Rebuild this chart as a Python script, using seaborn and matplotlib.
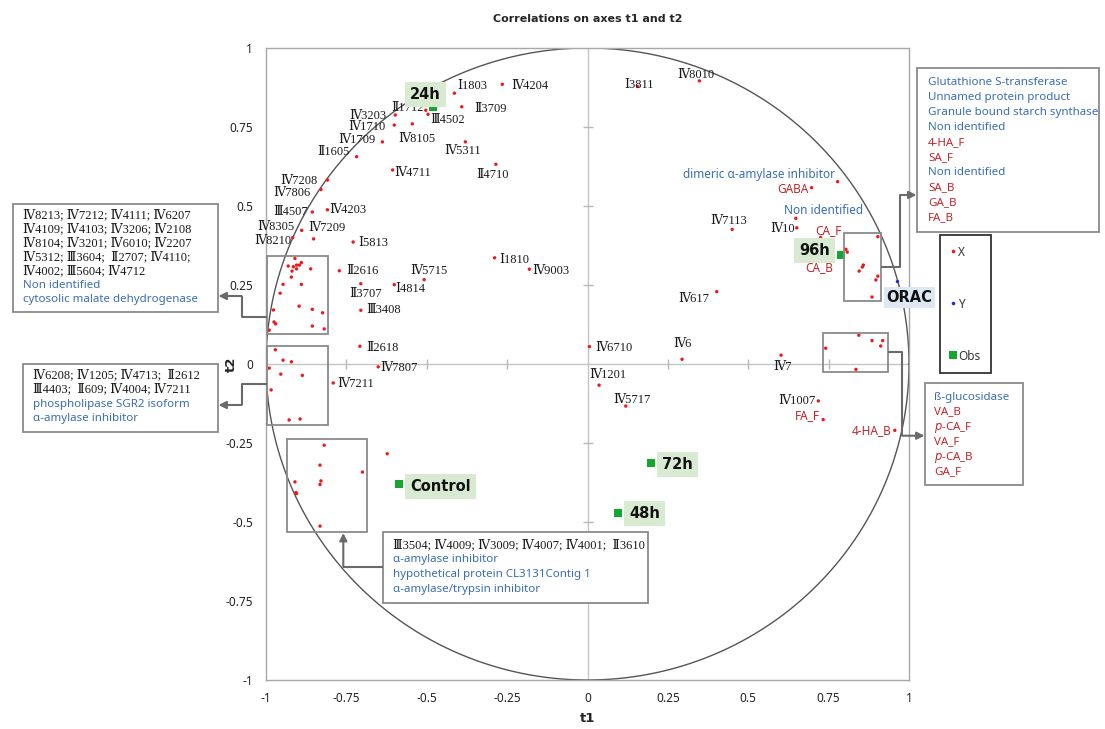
import numpy as np
import pandas as pd
import matplotlib
matplotlib.use('Agg')
import matplotlib.pyplot as plt
from matplotlib.lines import Line2D
from matplotlib.patches import Rectangle
import seaborn as sns

# ---------------- data ----------------
var_labels = ['Ⅰ1803', 'Ⅳ4204', 'Ⅱ1712', 'Ⅱ3709', 'Ⅲ4502', 'Ⅳ3203', 'Ⅳ1710', 'Ⅳ8105',
              'Ⅳ1709', 'Ⅳ5311', 'Ⅱ1605', 'Ⅱ4710', 'Ⅳ4711', 'Ⅳ7208', 'Ⅳ7806', 'Ⅲ4507',
              'Ⅳ4203', 'Ⅳ8305', 'Ⅳ7209', 'Ⅳ8210', 'Ⅰ5813', 'Ⅰ1810', 'Ⅳ9003', 'Ⅱ2616',
              'Ⅳ5715', 'Ⅱ3707', 'Ⅰ4814', 'Ⅲ3408', 'Ⅱ2618', 'Ⅳ7807', 'Ⅳ7211', 'Ⅳ6710',
              'Ⅳ1201', 'Ⅳ5717', 'Ⅳ6', 'Ⅳ7', 'Ⅳ1007', 'FA_F', '4-HA_B', 'Ⅰ3811', 'Ⅳ8010',
              'dimeric α-amylase inhibitor', 'GABA', 'Non identified', 'Ⅳ10', 'Ⅳ7113',
              'CA_F', 'CA_B', 'Ⅳ617']
var_x = [-0.414, -0.265, -0.503, -0.391, -0.496, -0.598, -0.601, -0.545,
         -0.638, -0.380, -0.718, -0.285, -0.606, -0.809, -0.829, -0.856,
         -0.809, -0.889, -0.852, -0.917, -0.729, -0.289, -0.181, -0.772,
         -0.508, -0.705, -0.601, -0.705, -0.708, -0.651, -0.791, 0.006,
         0.036, 0.119, 0.294, 0.602, 0.718, 0.733, 0.956, 0.156, 0.348,
         0.778, 0.697, 0.648, 0.651, 0.450, 0.725, 0.741, 0.402]
var_y = [0.857, 0.885, 0.803, 0.814, 0.790, 0.788, 0.756, 0.760,
         0.703, 0.703, 0.656, 0.632, 0.614, 0.582, 0.552, 0.481,
         0.488, 0.423, 0.396, 0.400, 0.386, 0.336, 0.300, 0.295,
         0.267, 0.254, 0.251, 0.170, 0.056, -0.009, -0.060, 0.055,
         -0.067, -0.133, 0.015, 0.028, -0.117, -0.176, -0.210, 0.878, 0.896,
         0.577, 0.558, 0.461, 0.431, 0.426, 0.400, 0.329, 0.229]

# variables without labels (grouped in the framed clusters)
grp_x = [-0.910, -0.931, -0.915, -0.905, -0.896, -0.890, -0.919, -0.905, -0.861, -0.921,
         -0.890, -0.947, -0.956, -0.977, -0.897, -0.856, -0.824, -0.975, -0.970, -0.990,
         -0.856, -0.819,
         -0.971, -0.947, -0.921, -0.990, -0.954, -0.887, -0.984, -0.928, -0.894,
         -0.819, -0.832, -0.700, -0.910, -0.829, -0.832, -0.907, -0.905, -0.832, -0.623,
         0.804, 0.808, 0.858, 0.855, 0.845, 0.903, 0.903, 0.897, 0.885,
         0.741, 0.844, 0.885, 0.918, 0.912, 0.835]
grp_y = [0.334, 0.310, 0.308, 0.313, 0.313, 0.321, 0.294, 0.301, 0.301, 0.275,
         0.252, 0.252, 0.224, 0.171, 0.183, 0.173, 0.162, 0.133, 0.127, 0.107,
         0.120, 0.111,
         0.045, 0.012, 0.007, -0.013, -0.032, -0.036, -0.082, -0.177, -0.174,
         -0.257, -0.320, -0.342, -0.373, -0.370, -0.381, -0.407, -0.410, -0.513, -0.284,
         0.363, 0.354, 0.313, 0.307, 0.294, 0.403, 0.278, 0.266, 0.212,
         0.050, 0.091, 0.074, 0.074, 0.057, -0.017]

yvar_labels = ['ORAC']
yvar_x = [0.964]
yvar_y = [0.261]

obs_labels = ['24h', '96h', '72h', '48h', 'Control']
obs_x = [-0.480, 0.788, 0.198, 0.094, -0.586]
obs_y = [0.814, 0.346, -0.314, -0.472, -0.381]

tick_vals = [-1, -0.75, -0.5, -0.25, 0, 0.25, 0.5, 0.75, 1]
tick_text = ['-1', '-0.75', '-0.5', '-0.25', '0', '0.25', '0.5', '0.75', '1']

legend_labels = ['X', 'Y', 'Obs']

box_left_top = ['Ⅳ8213; Ⅳ7212; Ⅳ4111; Ⅳ6207', 'Ⅳ4109; Ⅳ4103; Ⅳ3206; Ⅳ2108',
                'Ⅳ8104; Ⅳ3201; Ⅳ6010; Ⅳ2207', 'Ⅳ5312; Ⅲ3604;  Ⅱ2707; Ⅳ4110;',
                'Ⅳ4002; Ⅲ5604; Ⅳ4712']
box_left_top_names = ['Non identified', 'cytosolic malate dehydrogenase']
box_left_mid = ['Ⅳ6208; Ⅳ1205; Ⅳ4713;  Ⅱ2612', 'Ⅲ4403;  Ⅱ609; Ⅳ4004; Ⅳ7211']
box_left_mid_names = ['phospholipase SGR2 isoform', 'α-amylase inhibitor']
box_bottom = ['Ⅲ3504; Ⅳ4009; Ⅳ3009; Ⅳ4007; Ⅳ4001;  Ⅱ3610']
box_bottom_names = ['α-amylase inhibitor', 'hypothetical protein CL3131Contig 1',
                    'α-amylase/trypsin inhibitor']
box_right_top = [('Glutathione S-transferase', 'b'), ('Unnamed protein product', 'b'),
                 ('Granule bound starch synthase', 'b'), ('Non identified', 'b'),
                 ('4-HA_F', 'r'), ('SA_F', 'r'), ('Non identified', 'b'),
                 ('SA_B', 'r'), ('GA_B', 'r'), ('FA_B', 'r')]
box_right_bot = [('ß-glucosidase', 'b'), ('VA_B', 'r'), (r'$\it{p}$-CA_F', 'r'),
                 ('VA_F', 'r'), (r'$\it{p}$-CA_B', 'r'), ('GA_F', 'r')]

red_names = {'FA_F', '4-HA_B', 'GABA', 'CA_F', 'CA_B'}
blue_names = {'dimeric α-amylase inhibitor', 'Non identified'}

# ---------------- layout (label placement: ha, dx, dy in pixels) ----------------
label_pos = {
    'Ⅰ1803': ('left', 3, 7), 'Ⅳ4204': ('left', 9, -2), 'Ⅱ1712': ('right', -2, 2),
    'Ⅱ3709': ('left', 12, -2), 'Ⅲ4502': ('left', 2, -6), 'Ⅳ3203': ('right', -9, -1),
    'Ⅳ1710': ('right', -9, -2), 'Ⅳ8105': ('center', 5, -15), 'Ⅳ1709': ('right', -7, 2),
    'Ⅳ5311': ('center', -3, -9), 'Ⅱ1605': ('right', -7, 5), 'Ⅱ4710': ('center', -3, -11),
    'Ⅳ4711': ('left', 2, -3), 'Ⅳ7208': ('right', -10, -1), 'Ⅳ7806': ('right', -10, -3),
    'Ⅲ4507': ('right', -4, 0), 'Ⅳ4203': ('left', 2, 0), 'Ⅳ8305': ('right', -7, 3),
    'Ⅳ7209': ('left', -5, 11), 'Ⅳ8210': ('right', -1, -3), 'Ⅰ5813': ('left', 5, -1),
    'Ⅰ1810': ('left', 5, -2), 'Ⅳ9003': ('left', 3, -2), 'Ⅱ2616': ('left', 7, 0),
    'Ⅳ5715': ('center', 5, 9), 'Ⅱ3707': ('center', 5, -10), 'Ⅰ4814': ('left', 1, -4),
    'Ⅲ3408': ('left', 5, 0), 'Ⅱ2618': ('left', 6, -2), 'Ⅳ7807': ('left', 2, -1),
    'Ⅳ7211': ('left', 4, -1), 'Ⅳ6710': ('left', 6, -1), 'Ⅳ1201': ('center', 9, 10),
    'Ⅳ5717': ('center', 6, 6), 'Ⅳ6': ('center', 0, 15), 'Ⅳ7': ('center', 1, -12),
    'Ⅳ1007': ('right', -3, 0), 'FA_F': ('right', -3, 4), '4-HA_B': ('right', -3, 0),
    'Ⅰ3811': ('center', 1, 2), 'Ⅳ8010': ('center', -4, 6),
    'dimeric α-amylase inhibitor': ('right', -3, 7), 'GABA': ('right', -3, -2),
    'Non identified': ('left', -12, 8), 'Ⅳ10': ('right', -2, -1), 'Ⅳ7113': ('center', -4, 8),
    'CA_F': ('center', 8, 7), 'CA_B': ('center', -7, -7), 'Ⅳ617': ('right', -7, -7),
}
obs_pos = {'24h': (-8, 12), '96h': (-26, 4), '72h': (26, -1), '48h': (27, 0), 'Control': (41, -2)}

BLUE = '#3b6db5'
RED = '#c3262c'
DOTRED = '#f01818'
GREEN = '#12a82e'
BOXC = '#8a8a8a'
ARROWC = '#6a6a6a'
SERIF = ['Liberation Serif', 'DejaVu Serif', 'Noto Sans CJK KR']
SANS = ['Noto Sans', 'DejaVu Sans']
BOLD = ['DejaVu Sans']

sns.set_theme(style='white')
plt.rcParams['font.family'] = SANS
plt.rcParams['axes.unicode_minus'] = False

W, H = 1105, 729
fig = plt.figure(figsize=(W / 100, H / 100), dpi=100)
ax = fig.add_axes([266 / W, 1 - 680 / H, (909 - 266) / W, (680 - 48) / H])

df = pd.concat([
    pd.DataFrame({'t1': var_x, 't2': var_y, 'kind': 'X'}),
    pd.DataFrame({'t1': grp_x, 't2': grp_y, 'kind': 'X'}),
    pd.DataFrame({'t1': yvar_x, 't2': yvar_y, 'kind': 'Y'}),
    pd.DataFrame({'t1': obs_x, 't2': obs_y, 'kind': 'Obs'}),
], ignore_index=True)

# reference lines / circle
theta = np.linspace(0, 2 * np.pi, 500)
ax.plot(np.cos(theta), np.sin(theta), color='#555555', lw=1.0, zorder=2)
ax.axhline(0, color='#c4c4c4', lw=1.0, zorder=1)
ax.axvline(0, color='#c4c4c4', lw=1.0, zorder=1)
inner = [v for v in tick_vals if v not in (-1, 0, 1)]
ax.plot(inner, np.zeros(len(inner)), ls='', marker='|', ms=6.5, mew=1.0, color='#b8b8b8', zorder=1)
ax.plot(np.zeros(len(inner)), inner, ls='', marker='_', ms=6.5, mew=1.0, color='#b8b8b8', zorder=1)

sns.scatterplot(data=df, x='t1', y='t2', hue='kind', style='kind', size='kind',
                palette={'X': DOTRED, 'Y': '#1b2fd0', 'Obs': GREEN},
                markers={'X': 'o', 'Y': 'o', 'Obs': 's'},
                sizes={'X': 6, 'Y': 6, 'Obs': 34},
                linewidth=0, legend=False, ax=ax, zorder=3)

ax.set_xlim(-1, 1)
ax.set_ylim(-1, 1)
ax.set_xticks(tick_vals)
ax.set_xticklabels(tick_text)
ax.set_yticks(tick_vals)
ax.set_yticklabels(tick_text)
ax.tick_params(axis='both', length=0, labelsize=8.5, colors='#222222')
ax.tick_params(axis='x', pad=9)
ax.tick_params(axis='y', pad=9.5)
for sp in ax.spines.values():
    sp.set_color('#a8a8a8')
    sp.set_linewidth(1.0)
ax.set_xlabel('t1', fontweight='bold', fontsize=9.5, labelpad=5, family=BOLD)
ax.set_ylabel('t2', fontweight='bold', fontsize=9.5, family=BOLD)
ax.yaxis.set_label_coords(-0.043, 0.5)
ax.set_title('Correlations on axes t1 and t2', fontweight='bold', fontsize=8, pad=19,
             family=BOLD)

# point labels
for lab, x, y in zip(var_labels, var_x, var_y):
    ha, dx, dy = label_pos[lab]
    if lab in red_names:
        kw = dict(color=RED, family=SANS, fontsize=8.5)
    elif lab in blue_names:
        kw = dict(color=BLUE, family=SANS, fontsize=8.5)
    else:
        kw = dict(color='#1a1a1a', family=SERIF, fontsize=9)
    ax.annotate(lab, (x, y), xytext=(dx, dy), textcoords='offset pixels',
                ha=ha, va='center', zorder=4, **kw)

for lab, x, y in zip(obs_labels, obs_x, obs_y):
    dx, dy = obs_pos[lab]
    ax.annotate(lab, (x, y), xytext=(dx, dy), textcoords='offset pixels',
                ha='center', va='center', fontsize=10.5, fontweight='bold', color='#111111',
                family=BOLD,
                bbox=dict(boxstyle='square,pad=0.35', fc='#d9ead3', ec='none'), zorder=4)

for lab, x, y in zip(yvar_labels, yvar_x, yvar_y):
    ax.annotate(lab, (x, y), xytext=(12, -16), textcoords='offset pixels',
                ha='center', va='center', fontsize=10.5, fontweight='bold', color='#111111',
                family=BOLD,
                bbox=dict(boxstyle='square,pad=0.2', fc='#dde8f2', ec='none'),
                zorder=4, annotation_clip=False)

# legend
handles = [Line2D([], [], ls='', marker='o', ms=2.6, color=DOTRED, mew=0),
           Line2D([], [], ls='', marker='o', ms=2.6, color='#1b2fd0', mew=0),
           Line2D([], [], ls='', marker='s', ms=5.5, color=GREEN, mew=0)]
leg = fig.legend(handles, legend_labels, loc='upper left', bbox_to_anchor=(940 / W, 1 - 235 / H),
                 frameon=True, fancybox=False, edgecolor='black', borderpad=0.9,
                 labelspacing=3.3, handlelength=0.4, handletextpad=0.25, fontsize=8.5,
                 borderaxespad=0)
leg.get_frame().set_linewidth(1.3)
for t in leg.get_texts():
    t.set_color('#333333')

# overlay in pixel coordinates for annotation boxes and connectors
ov = fig.add_axes([0, 0, 1, 1], zorder=5)
ov.set_xlim(0, W)
ov.set_ylim(H, 0)
ov.axis('off')
ov.patch.set_alpha(0)


def frame(x0, y0, x1, y1, fill=False):
    ov.add_patch(Rectangle((x0, y0), x1 - x0, y1 - y0, fill=fill, fc='white',
                           ec=BOXC, lw=1.3))


def text_box(x0, y0, x1, y1, tx, ty, step, lines):
    frame(x0, y0, x1, y1, fill=True)
    for i, (txt, kind) in enumerate(lines):
        if kind == 'id':
            kw = dict(color='#1a1a1a', family=SERIF, fontsize=9)
        elif kind == 'b':
            kw = dict(color=BLUE, family=SANS, fontsize=8.3)
        else:
            kw = dict(color=RED, family=SANS, fontsize=8.3)
        ov.text(tx, ty + i * step, txt, ha='left', va='center', **kw)


def connector(pts):
    xs = [p[0] for p in pts[:-1]]
    ys = [p[1] for p in pts[:-1]]
    ov.plot(xs, ys, color=ARROWC, lw=1.5, solid_capstyle='butt')
    ov.annotate('', xy=pts[-1], xytext=pts[-2],
                arrowprops=dict(arrowstyle='-|>', color=ARROWC, lw=1.5,
                                mutation_scale=11, shrinkA=0, shrinkB=0))


# cluster frames inside the plot
frame(267, 256, 328, 334)
frame(267, 346, 328, 425)
frame(287, 439, 367, 532)
frame(844, 233, 881, 301)
frame(823, 333, 888, 372)

text_box(13, 204, 218, 312, 23, 215, 14.05,
         [(t, 'id') for t in box_left_top] + [(t, 'b') for t in box_left_top_names])
text_box(23, 364, 218, 432, 33, 375, 14.6,
         [(t, 'id') for t in box_left_mid] + [(t, 'b') for t in box_left_mid_names])
text_box(383, 532, 648, 603, 393, 545, 14.8,
         [(t, 'id') for t in box_bottom] + [(t, 'b') for t in box_bottom_names])
text_box(917, 68, 1099, 232, 928, 82, 15.1, box_right_top)
text_box(925, 383, 1023, 485, 934, 397, 15.0, box_right_bot)

connector([(267, 316.7), (241.7, 316.7), (241.7, 296), (218.5, 296)])
connector([(267, 384.3), (241.7, 384.3), (241.7, 405), (218.5, 405)])
connector([(383, 566.7), (343.3, 566.7), (343.3, 533)])
connector([(881, 266.7), (900, 266.7), (900, 195), (916.5, 195)])
connector([(888, 352.3), (902, 352.3), (902, 435.7), (924.5, 435.7)])

fig.savefig('out.png', dpi=100)
